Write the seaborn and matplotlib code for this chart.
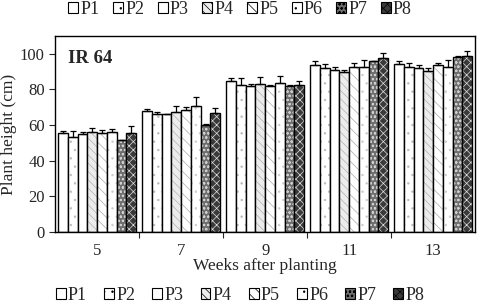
import numpy as np
import pandas as pd
import matplotlib
matplotlib.use("Agg")
import matplotlib.pyplot as plt
import seaborn as sns
from matplotlib.patches import Patch

weeks = ["5", "7", "9", "11", "13"]
series = ["P1", "P2", "P3", "P4", "P5", "P6", "P7", "P8"]
P1 = [55.7, 67.8, 84.9, 93.9, 94.2]
P2 = [53.5, 66.0, 82.7, 92.0, 92.4]
P3 = [55.1, 66.0, 81.8, 91.0, 92.0]
P4 = [55.9, 67.2, 83.0, 89.7, 90.5]
P5 = [55.5, 68.7, 81.7, 92.6, 93.6]
P6 = [56.0, 70.6, 83.6, 92.4, 92.7]
P7 = [51.4, 60.3, 82.1, 95.7, 98.3]
P8 = [55.5, 66.7, 82.7, 97.4, 98.9]
E1 = [1.0, 1.5, 1.5, 2.0, 1.5]
E2 = [3.0, 1.5, 3.5, 2.5, 2.5]
E3 = [1.0, 0.5, 1.0, 1.5, 2.0]
E4 = [2.5, 3.5, 4.0, 1.0, 1.5]
E5 = [1.5, 1.5, 1.0, 2.0, 1.5]
E6 = [2.0, 5.0, 4.0, 4.0, 4.0]
E7 = [0.5, 0.5, 0.5, 0.5, 0.5]
E8 = [4.0, 3.0, 2.0, 3.0, 2.5]

values = [P1, P2, P3, P4, P5, P6, P7, P8]
errors = [E1, E2, E3, E4, E5, E6, E7, E8]

rows = []
for s, vals in zip(series, values):
    for w, v in zip(weeks, vals):
        rows.append({"week": w, "series": s, "height": v})
df = pd.DataFrame(rows)

sns.set_style("white")
plt.rcParams["font.family"] = ["Liberation Serif", "DejaVu Serif"]
plt.rcParams["hatch.linewidth"] = 0.5

faces = ["white", "white", "white", "#ececec", "white", "white", "#6e6e6e", "#3a3a3a"]
hatches = [None, "..", None, "\\\\\\\\", "\\\\\\", "..", "oooo", "xxxx"]
hatch_cols = ["black", "#bbbbbb", "#cccccc", "#b0b0b0", "#aaaaaa", "#cccccc", "#cfcfcf", "#e0e0e0"]

fig = plt.figure(figsize=(4.8, 3.05), dpi=100)
ax = fig.add_axes([0.115, 0.239, 0.875, 0.643])

sns.barplot(data=df, x="week", y="height", hue="series", order=weeks,
            hue_order=series, palette=faces, width=0.93, gap=0,
            edgecolor="black", linewidth=1.0, legend=False, ax=ax, errorbar=None)

bar_conts = list(ax.containers)
for i, cont in enumerate(bar_conts):
    for j, p in enumerate(cont.patches):
        if hatches[i]:
            p.set_hatch(hatches[i])
        p._hatch_color = matplotlib.colors.to_rgba(hatch_cols[i])
        x = p.get_x() + p.get_width() / 2
        h = p.get_height()
        ax.errorbar([x], [h], yerr=[[0], [errors[i][j]]], fmt="none",
                    ecolor="black", elinewidth=0.9, capsize=2.5, capthick=0.9)

ax.set_ylim(0, 110)
ax.set_xlim(-0.5, 4.5)
ax.set_yticks([0, 20, 40, 60, 80, 100])
ax.set_xticks(range(len(weeks)))
ax.set_xticklabels(weeks)
ax.set_xticks([0.5, 1.5, 2.5, 3.5], minor=True)
ax.tick_params(axis="x", which="major", length=0, labelsize=12, pad=8)
ax.tick_params(axis="x", which="minor", length=4, width=0.8, direction="out", bottom=True)
ax.tick_params(axis="y", length=4, width=0.8, direction="out", labelsize=12, left=True)
for sp in ax.spines.values():
    sp.set_color("black")
    sp.set_linewidth(1.0)

ax.set_xlabel("Weeks after planting", fontsize=12.5, labelpad=-1)
ax.set_ylabel("Plant height (cm)", fontsize=12.5, labelpad=2)
ax.text(0.03, 0.93, "IR 64", transform=ax.transAxes, fontsize=13.5,
        fontweight="bold", va="top", ha="left")

handles = []
for i, s in enumerate(series):
    handles.append(Patch(facecolor=faces[i], edgecolor="black", hatch=hatches[i],
                         linewidth=0.8, label=s))

fig.legend(handles=handles, loc="upper center", bbox_to_anchor=(0.5, 1.02),
           ncol=8, frameon=False, fontsize=13, handlelength=0.55, handleheight=0.55,
           handletextpad=0.12, columnspacing=0.75, borderaxespad=0.0)
fig.legend(handles=handles, loc="lower center", bbox_to_anchor=(0.5, -0.02),
           ncol=8, frameon=False, fontsize=13, handlelength=0.55, handleheight=0.55,
           handletextpad=0.12, columnspacing=0.95, borderaxespad=0.0)

fig.savefig("out.png", dpi=100)
